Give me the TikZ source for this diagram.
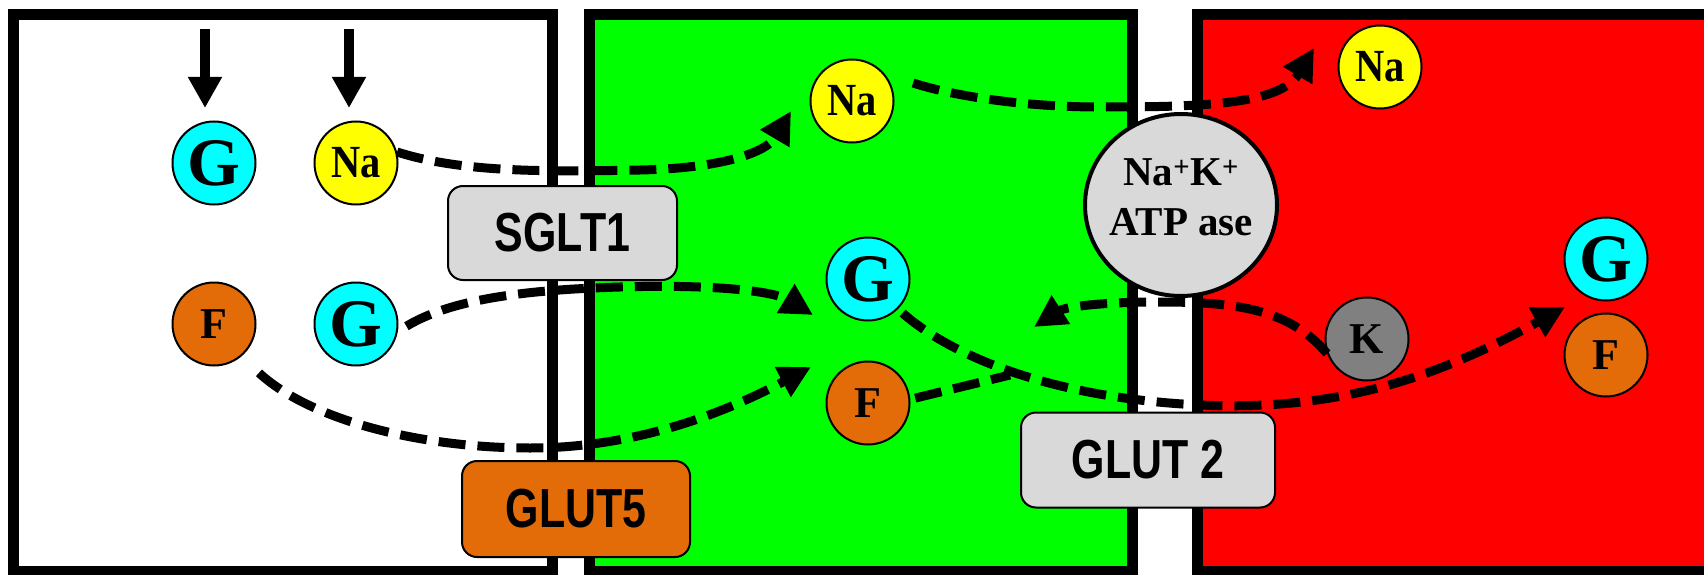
\documentclass[tikz,border=0pt]{standalone}
\usepackage{fontspec}
\setmainfont{Liberation Serif}
\newfontfamily\labfont{Liberation Sans}[FakeStretch=0.78]
\newfontfamily\narfont{Liberation Serif}[FakeStretch=0.88]
\usetikzlibrary{arrows.meta,shapes.geometric}
\definecolor{cyanc}{HTML}{00FFFF}
\definecolor{yellowc}{HTML}{FFFF00}
\definecolor{orangec}{HTML}{E36C09}
\definecolor{grayk}{HTML}{808080}
\definecolor{lightg}{HTML}{D9D9D9}
\definecolor{greenc}{HTML}{00FF00}
\definecolor{redc}{HTML}{FF0000}
\tikzset{
  cellbox/.style={draw=black, line width=11pt},
  mol/.style={circle, draw=black, line width=2pt, minimum size=83pt, inner sep=0pt},
  glet/.style={mol, fill=cyanc, font=\fontsize{68}{68}\selectfont\bfseries},
  nalet/.style={mol, fill=yellowc, font=\narfont\fontsize{46}{46}\selectfont\bfseries},
  flet/.style={mol, fill=orangec, font=\fontsize{44}{44}\selectfont\bfseries},
  klet/.style={mol, fill=grayk, font=\fontsize{44}{44}\selectfont\bfseries},
  transp/.style={draw=black, line width=2pt, rounded corners=15pt, inner sep=0pt,
    font=\labfont\fontsize{55}{55}\selectfont\bfseries},
  dasharrow/.style={line width=9pt, dash pattern=on 27pt off 12pt,
    -{Triangle[length=32pt,width=32pt]}},
  dashline/.style={line width=9pt, dash pattern=on 27pt off 12pt},
  solidarrow/.style={line width=10pt, -{Triangle[length=31pt,width=32pt]}}
}
\begin{document}
\begin{tikzpicture}[x=1pt,y=-1pt]
\useasboundingbox (0,0) rectangle (1704,575);
\begin{scope}
\clip (0,0) rectangle (1704,575);
\draw[cellbox, fill=white] (13,14.5) rectangle (552,571);
\draw[cellbox, fill=greenc] (589,14.5) rectangle (1132,571);
\draw[cellbox, fill=redc] (1197,14.5) rectangle (1740,571);
\end{scope}

% molecules
\node[glet] (g1) at (214,163) {G};
\node[nalet] (na1) at (356,163) {Na};
\node[flet] (f1) at (214,324) {F};
\node[glet] (g2) at (356,324) {G};
\node[nalet] (na2) at (852,101) {Na};
\node[glet] (g3) at (868,279) {G};
\node[flet] (f3) at (868,403) {F};
\node[nalet] (na4) at (1380,67) {Na};
\node[glet] (g4) at (1606,259) {G};
\node[flet] (f4) at (1606,355) {F};
\node[klet] (k) at (1367,339) {K};

% transporters
\node[transp, fill=lightg, minimum width=229pt, minimum height=94pt] (sglt) at (562.5,233) {SGLT1};
\node[transp, fill=orangec, minimum width=228pt, minimum height=96pt] (glut5) at (576,509) {GLUT5};
\node[transp, fill=lightg, minimum width=254pt, minimum height=95pt] (glut2) at (1148,460) {GLUT 2};
\node[ellipse, draw=black, line width=4pt, fill=lightg, minimum width=192pt, minimum height=182pt, inner sep=0pt,
  font=\fontsize{41}{50}\selectfont\bfseries] (atp) at (1181,205)
  {\makebox[0pt]{\raisebox{-2pt}[0pt][0pt]{\begin{tabular}{@{}c@{}}Na\textsuperscript{+}K\textsuperscript{+}\\ATP ase\end{tabular}}}};

% entry arrows
\coordinate (d1s) at (205,29);
\coordinate (d1e) at (205,108);
\coordinate (d2s) at (349,29);
\coordinate (d2e) at (349,108);
\draw[solidarrow] (d1s) -- (d1e);
\draw[solidarrow] (d2s) -- (d2e);

% tips
\coordinate (t1) at (791,111);
\coordinate (t2) at (1314,48);
\coordinate (t3) at (813,315);
\coordinate (t4) at (811,367);
\coordinate (t5) at (1565,307);
\coordinate (t7) at (1034,327);
\coordinate (m) at (1010,375);

\draw[dasharrow] (na1.15) .. controls (460,172) and (540,172) .. (640,170)
  .. controls (730,168) and (768,150) .. (t1);
\draw[dasharrow, shorten <=30pt] (na2.40) .. controls (950,95) and (1020,107) .. (1100,107)
  .. controls (1200,107) and (1280,105) .. (t2);
\draw[dasharrow, shorten <=10pt] (g2.-10) .. controls (450,300) and (520,290) .. (620,287)
  .. controls (720,284) and (775,292) .. (t3);
\draw[dasharrow, shorten <=24pt] (f1.-50) .. controls (310,420) and (420,448) .. (530,448)
  .. controls (640,448) and (730,410) .. (t4);
\draw[dasharrow, shorten <=6pt] (g3.-45) .. controls (950,355) and (1050,398) .. (1200,405)
  .. controls (1350,412) and (1450,370) .. (t5);
\draw[dashline, shorten <=5pt] (f3.5) -- (m);
\draw[dasharrow] (k.200) .. controls (1290,310) and (1240,302) .. (1160,302)
  .. controls (1100,302) and (1065,307) .. (t7);
\end{tikzpicture}
\end{document}
